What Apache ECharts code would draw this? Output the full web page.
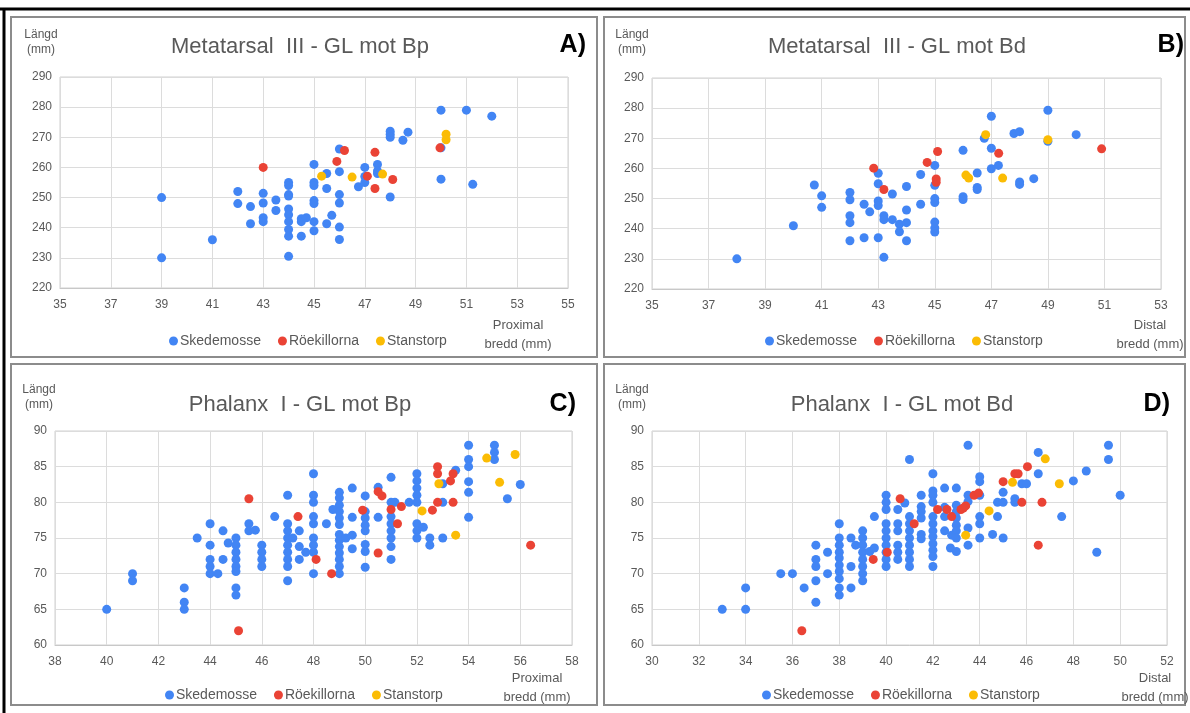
<!DOCTYPE html>
<html>
<head>
<meta charset="utf-8">
<script src="https://cdn.jsdelivr.net/npm/echarts@6/dist/echarts.min.js"></script>
<style>
  html, body { margin: 0; padding: 0; background: #fff; }
  #chart { width: 1190px; height: 713px; }
</style>
</head>
<body>
<div id="chart"></div>
<script>
// A) Metatarsal III - GL mot Bp  [bredd, längd]
const mtBpSked = [[39,250],[39,230],[41,236],[42,252],[42,248],[42.5,247],[42.5,241.3],[43,251.4],[43,248.2],[43,243.3],[43,242],[43.5,249.2],[43.5,245.7],[44,255],[44,254],[44,251],[44,250.5],[44,246.2],[44,244.3],[44,242],[44,239.4],[44,237.2],[44,230.5],[44.5,243],[44.5,242],[44.5,237.2],[44.7,243.3],[45,261],[45,255],[45,254],[45,249],[45,248],[45,242],[45,239],[45.5,258],[45.5,253],[45.5,241.3],[45.7,244.1],[46,266.1],[46,258.6],[46,251],[46,248.2],[46,240.2],[46,236.1],[46.75,253.6],[47,260],[47,257],[47,255],[47.5,261],[47.5,258.8],[47.5,258],[48,272],[48,271],[48,270],[48,250.2],[48.5,269],[48.7,271.7],[50,279],[50,266.5],[50,256.1],[51,279],[51.25,254.4],[52,277]]
const mtBpRoek = [[43,260],[45.9,262],[46.2,265.6],[47.4,265],[47.1,257.1],[48.1,256],[47.4,253],[49.96,266.5]]
const mtBpStan = [[45.3,257.1],[46.5,256.8],[47.7,257.8],[50.2,271],[50.2,269.2]]

// B) Metatarsal III - GL mot Bd
const mtBdSked = [[38,230],[40,241],[40.74,254.5],[41,250.9],[41,247.1],[42,252],[42,249.6],[42,244.3],[42,242],[42,236],[42.5,248.1],[42.5,237],[42.7,245.6],[43,258.4],[43,254.9],[43,249.2],[43,247.7],[43,237],[43.2,244.3],[43.2,243],[43.2,230.5],[43.5,251.5],[43.5,243],[43.75,241.5],[43.75,239],[44,254],[44,246.2],[44,242],[44,236],[44.5,258],[44.5,248.1],[45,261],[45,254.4],[45,250],[45,248.7],[45,242.2],[45,240.3],[45,238.9],[46,266],[46,250.6],[46,249.7],[46.5,258.5],[46.5,253.7],[46.5,253],[46.75,270],[47,277.3],[47,266.7],[47,259.9],[47.25,261],[47.8,271.6],[48,272.2],[48,255.5],[48,254.7],[48.5,256.6],[49,279.3],[49,269],[50,271.2]]
const mtBdRoek = [[42.84,260.1],[43.2,253],[44.73,262],[45.1,265.6],[45.05,256.5],[45.05,255.4],[47.26,265],[50.9,266.5]]
const mtBdStan = [[46.1,257.8],[46.2,256.8],[46.8,271.2],[47.4,256.8],[49,269.5]]

// C) Phalanx I - GL mot Bp
const phBpSked = [[40,65],[41,70],[41,69],[43,68],[43,66],[43,65],[43.5,75],[44,77],[44,74],[44,72],[44,71],[44,70],[44.3,70],[44.5,76],[44.5,72],[44.7,74.3],[45,75],[45,74],[45,73],[45,72],[45,71],[45,70.3],[45,68],[45,67],[45.5,77],[45.5,76],[45.75,76.1],[46,74],[46,73],[46,72],[46,71],[46.5,78],[47,81],[47,77],[47,76],[47,75],[47,74],[47,73],[47,72],[47,71],[47,69],[47.2,75],[47.45,76],[47.45,73.8],[47.45,72],[47.7,73],[48,84],[48,81],[48,80],[48,78],[48,77],[48,75],[48,74],[48,73],[48,70],[48.5,77],[48.75,79],[49,81.4],[49,80.6],[49,79.6],[49,78.7],[49,77.8],[49,76.9],[49,75.5],[49,74.7],[49,73.8],[49,72.9],[49,72],[49,71],[49,70],[49.25,75],[49.5,82],[49.5,77.9],[49.5,75.4],[49.5,73.5],[50,80.9],[50,78.7],[50,77.8],[50,76.8],[50,76],[50,74.1],[50,73.1],[50,70.9],[50.5,82.1],[50.5,77.9],[51,83.5],[51,80],[51.15,80],[51,78],[51,77],[51,76],[51,75],[51,73.8],[51,72],[51.7,80],[52,84],[52,83],[52,82],[52,81],[52,80],[52,77],[52,76],[52.25,76.5],[52,75],[52.5,75],[52.5,74],[53,82.6],[53,80],[53,75],[53.5,84.5],[54,88],[54,86],[54,85],[54,82.9],[54,81.4],[54,77.9],[55,88],[55,87],[55,86],[55.5,80.5],[56,82.5]]
const phBpRoek = [[45.1,62],[45.5,80.5],[47.4,78],[48.1,72],[48.7,70],[49.9,78.9],[50.5,81.5],[50.65,80.9],[50.5,72.9],[51,79],[51.25,77],[51.4,79.4],[52.6,78.9],[52.8,85],[52.8,84],[52.8,80],[53.4,84],[53.3,83],[53.4,80],[56.4,74]]
const phBpStan = [[52.2,78.8],[52.85,82.6],[53.5,75.4],[54.7,86.2],[55.2,82.8],[55.8,86.7]]

// D) Phalanx I - GL mot Bd
const phBdSked = [[33,65],[34,65],[34,68],[35.5,70],[36,70],[36.5,68],[37,74],[37,72],[37,71],[37,69],[37,66],[37.5,73],[37.5,70],[38,77],[38,75],[38,74],[38,73],[38,72.2],[38,71.2],[38,70.3],[38,69.3],[38,68],[38,67],[38.5,75],[38.5,71],[38.5,68],[38.7,74],[39,76],[39,75],[39,74],[39,73],[39,72],[39,71],[39,70],[39,69],[39.3,73.1],[39.5,78],[39.5,73.6],[40,81],[40,80],[40,79],[40,77],[40,76],[40,75],[40,74],[40,73],[40,72],[40,71],[40.5,79],[40.5,77],[40.5,76],[40.5,74],[40.5,73],[40.5,72],[40.8,79.9],[41,86],[41,78],[41,77],[41,76],[41,75],[41,74],[41,73],[41,72],[41,71],[41.5,81],[41.5,79.4],[41.5,78.7],[41.5,77.8],[41.5,75.5],[41.5,74.9],[42,84],[42,81.6],[42,81],[42,80],[42,78],[42,77],[42,76],[42,75.2],[42,74.2],[42,73.3],[42,72.4],[42,71],[42.5,82],[42.5,79.3],[42.5,78],[42.5,76],[42.8,75.4],[42.75,73.6],[43,82],[43,79.6],[43,78.7],[43,77.8],[43,76.8],[43,76],[43,75],[43,73.1],[43.5,88],[43.5,81],[43.5,80.1],[43.5,76.4],[43.5,74],[44,83.6],[44,82.9],[44,81],[44,78],[44,77],[44,75],[44.55,75.5],[44.76,80],[44.76,78],[45,81.4],[45,80],[45,75],[45.5,80.5],[45.5,80],[45.8,82.6],[46,82.6],[46.5,87],[46.5,84],[47.5,78],[48,83],[48.55,84.4],[49,73],[49.5,88],[49.5,86],[50,81]]
const phBdRoek = [[36.4,62],[39.45,72],[40.05,73],[40.6,80.5],[41.2,77],[42.2,79],[42.6,79],[42.8,78],[43.2,79],[43.3,79.2],[43.4,79.5],[43.76,81],[43.95,81.3],[45,82.9],[45.5,84],[45.64,84],[45.8,80],[46.04,85],[46.66,80],[46.5,74]]
const phBdStan = [[43.4,75.4],[44.4,78.8],[45.4,82.8],[46.8,86.1],[47.4,82.6]]

const siteNames = ['Skedemosse', 'Röekillorna', 'Stanstorp']
const siteColors = ['#4285f4', '#ea4335', '#fbbc04']

const panelTitles = ['Metatarsal  III - GL mot Bp', 'Metatarsal  III - GL mot Bd', 'Phalanx  I - GL mot Bp', 'Phalanx  I - GL mot Bd']
const panelLetters = ['A)', 'B)', 'C)', 'D)']
const xNames = ['Proximal\nbredd (mm)', 'Distal\nbredd (mm)', 'Proximal\nbredd (mm)', 'Distal\nbredd (mm)']
const xRanges = [[35, 55], [35, 53], [38, 58], [30, 52]]
const yRanges = [[220, 290, 10], [220, 290, 10], [60, 90, 5], [60, 90, 5]]
const panelData = [
  [mtBpSked, mtBpRoek, mtBpStan],
  [mtBdSked, mtBdRoek, mtBdStan],
  [phBpSked, phBpRoek, phBpStan],
  [phBdSked, phBdRoek, phBdStan],
]

const font = '"Liberation Sans", Arial, sans-serif'
const grey = '#595959'

// plot areas and panel frames
const grids = [
  { left: 60, top: 77, width: 508, height: 211 },
  { left: 652, top: 78, width: 509, height: 211 },
  { left: 55, top: 431, width: 517, height: 214 },
  { left: 652, top: 431, width: 515, height: 214 },
]
const frames = [
  { x: 11, y: 17, w: 586, h: 340 },
  { x: 604, y: 17, w: 581, h: 340 },
  { x: 11, y: 364, w: 586, h: 341 },
  { x: 604, y: 364, w: 581, h: 341 },
]
const legendPos = [{ left: 164, top: 329 }, { left: 760, top: 329 }, { left: 160, top: 683 }, { left: 757, top: 683 }]
const titlePos = [{ x: 300, y: 47 }, { x: 897, y: 47 }, { x: 300, y: 405 }, { x: 902, y: 405 }]
const letterPos = [{ x: 586, y: 45 }, { x: 1184, y: 45 }, { x: 576, y: 404 }, { x: 1170, y: 404 }]
const yNamePos = [{ x: 41, y: 27 }, { x: 632, y: 27 }, { x: 39, y: 382 }, { x: 632, y: 382 }]
const xNamePos = [{ x: 518, y: 316 }, { x: 1150, y: 316 }, { x: 537, y: 669 }, { x: 1155, y: 669 }]

const chart = echarts.init(document.getElementById('chart'))

const graphics = [
  { type: 'line', shape: { x1: 0, y1: 9, x2: 1190, y2: 9 }, style: { stroke: '#000', lineWidth: 3 } },
  { type: 'line', shape: { x1: 4, y1: 9, x2: 4, y2: 713 }, style: { stroke: '#000', lineWidth: 3 } },
]
frames.forEach((f) => {
  graphics.push({ type: 'rect', shape: { x: f.x, y: f.y, width: f.w, height: f.h }, style: { fill: null, stroke: '#8c8c8c', lineWidth: 2 } })
})
for (let i = 0; i < 4; i++) {
  graphics.push({ type: 'text', x: titlePos[i].x, y: titlePos[i].y, style: { text: panelTitles[i], align: 'center', verticalAlign: 'middle', fill: grey, font: '22px ' + font } })
  graphics.push({ type: 'text', x: letterPos[i].x, y: letterPos[i].y, style: { text: panelLetters[i], align: 'right', verticalAlign: 'middle', fill: '#000', font: 'bold 25px ' + font } })
  graphics.push({ type: 'text', x: yNamePos[i].x, y: yNamePos[i].y, style: { text: 'Längd\n(mm)', align: 'center', verticalAlign: 'top', fill: grey, font: '12px ' + font, lineHeight: 15 } })
  graphics.push({ type: 'text', x: xNamePos[i].x, y: xNamePos[i].y, style: { text: xNames[i], align: 'center', verticalAlign: 'top', fill: grey, font: '13px ' + font, lineHeight: 19 } })
}

const option = {
  animation: false,
  textStyle: { fontFamily: font },
  graphic: graphics,
  grid: grids.map((g) => ({ ...g, show: true, borderColor: '#d0d0d0', borderWidth: 1 })),
  legend: legendPos.map((p) => ({
    ...p,
    data: siteNames,
    icon: 'circle',
    itemWidth: 9,
    itemHeight: 9,
    itemGap: 17,
    textStyle: { color: grey, fontSize: 14, fontFamily: font, padding: [0, 0, 0, -3] },
  })),
  xAxis: xRanges.map((r, i) => ({
    type: 'value',
    gridIndex: i,
    min: r[0],
    max: r[1],
    interval: 2,
    axisLine: { show: true, lineStyle: { color: '#c8c8c8' } },
    axisTick: { show: false },
    axisLabel: { color: grey, fontSize: 12, margin: 11 },
    splitLine: { show: true, lineStyle: { color: '#dcdcdc' } },
  })),
  yAxis: yRanges.map((r, i) => ({
    type: 'value',
    gridIndex: i,
    min: r[0],
    max: r[1],
    interval: r[2],
    axisLine: { show: false },
    axisTick: { show: false },
    axisLabel: { color: grey, fontSize: 12, margin: 8 },
    splitLine: { show: true, lineStyle: { color: '#dcdcdc' } },
  })),
  series: [],
}

panelData.forEach((sets, i) => {
  sets.forEach((pts, k) => {
    option.series.push({
      name: siteNames[k],
      type: 'scatter',
      xAxisIndex: i,
      yAxisIndex: i,
      data: pts,
      symbolSize: 9,
      itemStyle: { color: siteColors[k], opacity: 1 },
    })
  })
})

chart.setOption(option)
</script>
</body>
</html>
